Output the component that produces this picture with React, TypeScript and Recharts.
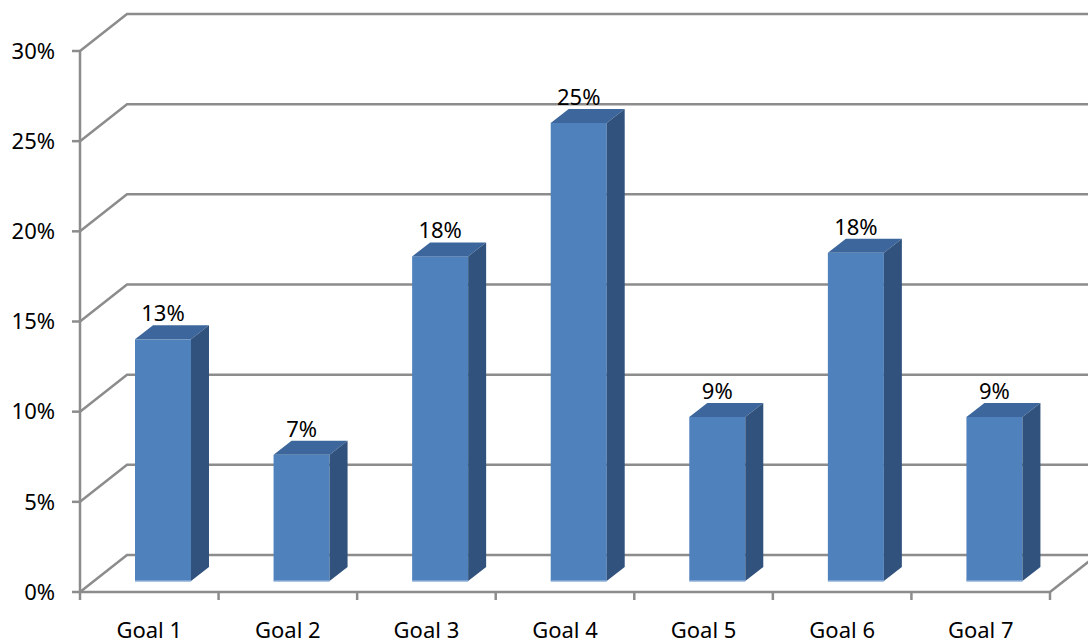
import { BarChart, Bar, XAxis, YAxis, CartesianGrid } from 'recharts';

const goals = ['Goal 1', 'Goal 2', 'Goal 3', 'Goal 4', 'Goal 5', 'Goal 6', 'Goal 7'];
const shares = [0.134, 0.07, 0.18, 0.254, 0.091, 0.182, 0.091];
const yTicks = [0, 0.05, 0.1, 0.15, 0.2, 0.25, 0.3];

const data = goals.map((goal, i) => ({ goal, share: shares[i] }));

const W = 1088;
const H = 643;
const MARGIN = { top: 51, right: 38, left: 0, bottom: 0 };
const Y_AXIS_W = 80;
const BAND = (W - Y_AXIS_W - MARGIN.right) / goals.length;

// perspective offsets (wall depth, bar position and bar depth)
const WALL_DX = 47;
const WALL_DY = -37;
const BAR_DX = 14;
const BAR_DY = -11;
const DEPTH_DX = 18;
const DEPTH_DY = -14;

const GRID = '#8c8c8c';
const GRID_W = 2.5;
const FONT = '"Noto Sans", "Open Sans", sans-serif';

const pct = (v: number) => `${Math.round(v * 100)}%`;

// back wall + left wall grid line for each y tick
const WallLine = (props: any) => {
  const { x1, y1, x2, index } = props;
  const bx = x1 + WALL_DX;
  const by = y1 + WALL_DY;
  const isFloor = Math.abs(y1 - (H - 51)) < 1;
  return (
    <g key={`wall-${index}`}>
      <polyline
        points={`${x1},${y1} ${bx},${by} ${x2 + WALL_DX + 20},${by}`}
        fill="none"
        stroke={GRID}
        strokeWidth={GRID_W}
      />
      {isFloor && (
        <line x1={x2} y1={y1} x2={x2 + WALL_DX} y2={by} stroke={GRID} strokeWidth={GRID_W} />
      )}
    </g>
  );
};

const Bar3D = (props: any) => {
  const { x, y, width, height, value } = props;
  if (height == null) return null;
  const fx = x + BAR_DX;
  const fy = y + BAR_DY;
  const fb = y + height + BAR_DY;
  return (
    <g>
      <rect x={fx} y={fy} width={width} height={height} fill="#4f81bd" />
      <polygon
        points={`${fx},${fy} ${fx + width},${fy} ${fx + width + DEPTH_DX},${fy + DEPTH_DY} ${fx + DEPTH_DX},${fy + DEPTH_DY}`}
        fill="#3d679c"
      />
      <polygon
        points={`${fx + width},${fy} ${fx + width + DEPTH_DX},${fy + DEPTH_DY} ${fx + width + DEPTH_DX},${fb + DEPTH_DY} ${fx + width},${fb}`}
        fill="#31527d"
      />
      <line x1={fx} y1={fb} x2={fx + width} y2={fb} stroke="#8fb0db" strokeWidth={1.5} />
      <text
        x={fx + width / 2}
        y={fy - 18}
        textAnchor="middle"
        fontSize={22}
        fontFamily={FONT}
        fill="#000"
      >
        {pct(value)}
      </text>
    </g>
  );
};

const GoalTick = (props: any) => {
  const { x, y, payload } = props;
  const last = payload.value === goals[goals.length - 1];
  return (
    <g>
      <line x1={x - BAND / 2} y1={y} x2={x - BAND / 2} y2={y + 8} stroke={GRID} strokeWidth={GRID_W} />
      {last && (
        <line x1={x + BAND / 2} y1={y} x2={x + BAND / 2} y2={y + 8} stroke={GRID} strokeWidth={GRID_W} />
      )}
      <text x={x} y={y + 46} textAnchor="middle" fontSize={22} fontFamily={FONT} fill="#000">
        {payload.value}
      </text>
    </g>
  );
};

export default function App() {
  return (
    <div style={{ position: 'absolute', left: 0, top: 0, width: W, height: H, background: '#fff' }}>
      <BarChart width={W} height={H} data={data} margin={MARGIN}>
        <CartesianGrid vertical={false} horizontal={WallLine} />
        <XAxis
          dataKey="goal"
          height={51}
          axisLine={{ stroke: GRID, strokeWidth: GRID_W }}
          tickLine={false}
          tickSize={0}
          tickMargin={0}
          tick={GoalTick}
          interval={0}
        />
        <YAxis
          width={Y_AXIS_W}
          domain={[0, 0.3]}
          ticks={yTicks}
          tickFormatter={pct}
          axisLine={{ stroke: GRID, strokeWidth: GRID_W }}
          tickLine={{ stroke: GRID, strokeWidth: GRID_W }}
          tickSize={8}
          tickMargin={17}
          tick={{ fill: '#000', fontSize: 22, fontFamily: FONT }}
        />
        <Bar dataKey="share" barSize={56} shape={Bar3D} isAnimationActive={false} />
      </BarChart>
    </div>
  );
}
